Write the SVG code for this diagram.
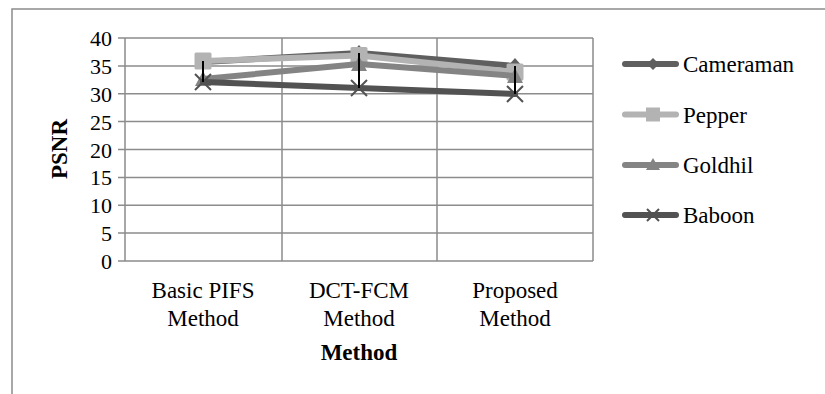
<svg xmlns="http://www.w3.org/2000/svg" xmlns:xlink="http://www.w3.org/1999/xlink" width="825" height="394" viewBox="0 0 825 394">
<style>
text{font-family:"Liberation Serif","Times New Roman",serif;font-size:23px;fill:#000}
.ylab{text-anchor:end;font-size:22px}
.cat{text-anchor:middle}
.bold{font-weight:bold}
.grid{stroke:#8c8c8c;stroke-width:1.5;fill:none}
.ser{fill:none;stroke-width:6;stroke-linejoin:round;stroke-linecap:round}
.cam{stroke:#5f5f5f}
.pep{stroke:#b3b3b3}
.gold{stroke:#848484}
.bab{stroke:#525252}
.hl{stroke:#000;stroke-width:2}
</style>
<defs>
<marker id="mDiamond" markerUnits="userSpaceOnUse" markerWidth="20" markerHeight="20" refX="10" refY="10" overflow="visible"><path d="M10,2 L17,10 L10,18 L3,10 Z" fill="#5f5f5f"/></marker>
<marker id="mSquare" markerUnits="userSpaceOnUse" markerWidth="20" markerHeight="20" refX="10" refY="10" overflow="visible"><rect x="1.5" y="1.5" width="17" height="17" rx="1.5" fill="#b3b3b3"/></marker>
<marker id="mTri" markerUnits="userSpaceOnUse" markerWidth="20" markerHeight="20" refX="10" refY="10" overflow="visible"><path d="M10,2 L18,17 L2,17 Z" fill="#848484"/></marker>
<marker id="mX" markerUnits="userSpaceOnUse" markerWidth="20" markerHeight="20" refX="10" refY="10" overflow="visible"><path d="M2,2 L18,18 M2,18 L18,2" stroke="#525252" stroke-width="2" fill="none"/></marker>
</defs>
<rect width="825" height="394" fill="#fff"/>
<g id="frame"><path d="M12,394 V9 H825" class="grid"/></g>
<g id="plot-area">
<path class="grid" d="M118,38 H593 M118,65.9 H593 M118,93.75 H593 M118,121.6 H593 M118,149.5 H593 M118,177.4 H593 M118,205.25 H593 M118,233.1 H593 M118,261 H593 M125,38 V261 M282,38 V261 M437,38 V261 M593,38 V261"/>
</g>
<g id="y-axis-labels">
<text class="ylab" x="112" y="46">40</text>
<text class="ylab" x="112" y="73.9">35</text>
<text class="ylab" x="112" y="101.75">30</text>
<text class="ylab" x="112" y="129.6">25</text>
<text class="ylab" x="112" y="157.5">20</text>
<text class="ylab" x="112" y="185.4">15</text>
<text class="ylab" x="112" y="213.25">10</text>
<text class="ylab" x="112" y="241.1">5</text>
<text class="ylab" x="112" y="269">0</text>
<text class="bold cat" transform="translate(67,149) rotate(-90)">PSNR</text>
</g>
<g id="x-axis-labels">
<text class="cat" x="203" y="298">Basic PIFS</text>
<text class="cat" x="203" y="326">Method</text>
<text class="cat" x="359" y="298">DCT-FCM</text>
<text class="cat" x="359" y="326">Method</text>
<text class="cat" x="515" y="298">Proposed</text>
<text class="cat" x="515" y="326">Method</text>
<text class="cat bold" x="359" y="360">Method</text>
</g>
<g id="connectors">
<polyline id="s-cameraman" class="ser cam" points="203,62 359,53 515,66" marker-start="url(#mDiamond)" marker-mid="url(#mDiamond)" marker-end="url(#mDiamond)"/>
<polyline id="s-pepper" class="ser pep" points="203,61 359,55.5 515,72" marker-start="url(#mSquare)" marker-mid="url(#mSquare)" marker-end="url(#mSquare)"/>
<polyline id="s-goldhil" class="ser gold" points="203,79 359,64 515,76" marker-start="url(#mTri)" marker-mid="url(#mTri)" marker-end="url(#mTri)"/>
<polyline id="s-baboon" class="ser bab" points="203,82 359,88 515,94" marker-start="url(#mX)" marker-mid="url(#mX)" marker-end="url(#mX)"/>
<path id="high-low" class="hl" d="M203,61 V82 M359,53 V88 M515,66 V94"/>
</g>
<g id="legend">
<g id="leg-cameraman"><path d="M625,64 H676" class="ser cam" stroke-width="5"/><path d="M653,58 L659,64 L653,70 L647,64 Z" fill="#5f5f5f"/><text x="683" y="72">Cameraman</text></g>
<g id="leg-pepper"><path d="M625,114.5 H676" class="ser pep" stroke-width="5"/><rect x="646" y="107.5" width="14" height="14" fill="#b3b3b3"/><text x="683" y="122.5">Pepper</text></g>
<g id="leg-goldhil"><path d="M625,165 H676" class="ser gold" stroke-width="5"/><path d="M653,158 L660,170 L646,170 Z" fill="#848484"/><text x="683" y="173">Goldhil</text></g>
<g id="leg-baboon"><path d="M625,215 H676" class="ser bab" stroke-width="5"/><path d="M647,209 L659,221 M647,221 L659,209" stroke="#525252" stroke-width="2"/><text x="683" y="223">Baboon</text></g>
</g>
</svg>
